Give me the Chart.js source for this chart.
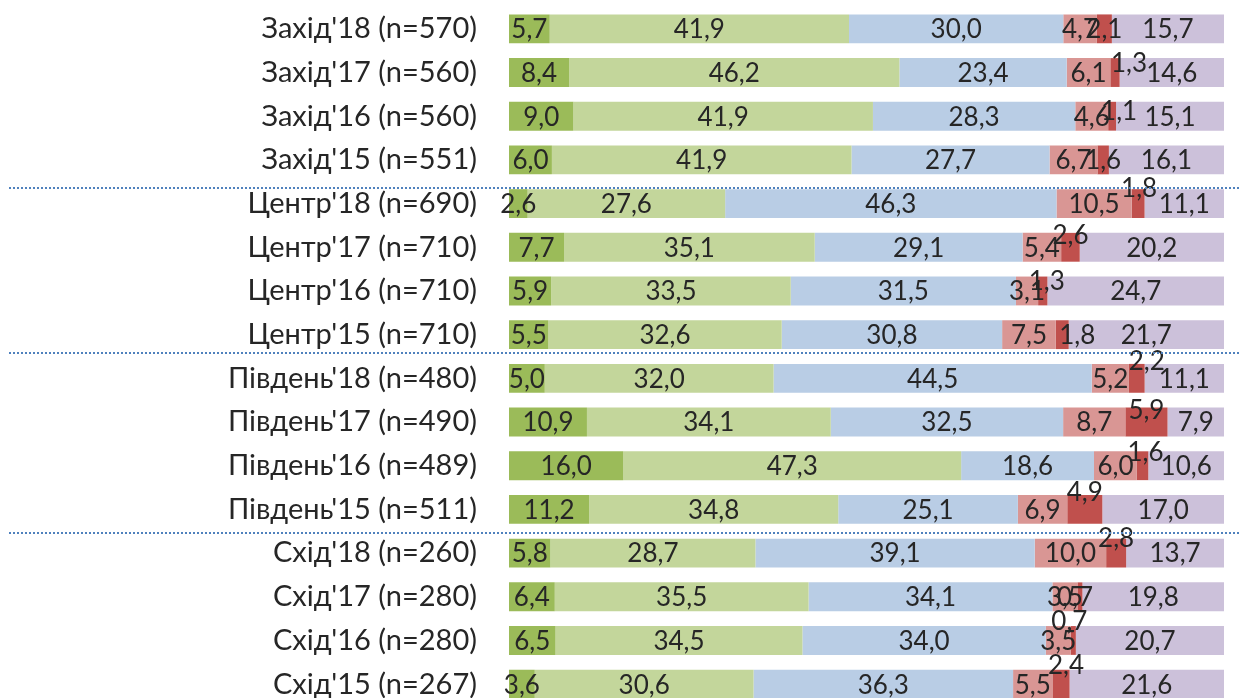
<!DOCTYPE html>
<html>

<head>
    <meta charset="UTF-8">
    <title>Regions</title>
    <script src="https://cdn.jsdelivr.net/npm/chart.js"></script>
    <style>
        html, body {
            margin: 0;
            padding: 0;
            background: #ffffff;
            overflow: hidden;
        }

        .chart-box {
            position: relative;
            width: 1241px;
            height: 714px;
        }
    </style>
</head>

<body>
    <div class="chart-box">
        <canvas id="regionChart"></canvas>
    </div>

    <script>
        // categories (rows, top to bottom)
        var regions = [
            "Захід'18 (n=570)", "Захід'17 (n=560)", "Захід'16 (n=560)", "Захід'15 (n=551)",
            "Центр'18 (n=690)", "Центр'17 (n=710)", "Центр'16 (n=710)", "Центр'15 (n=710)",
            "Південь'18 (n=480)", "Південь'17 (n=490)", "Південь'16 (n=489)", "Південь'15 (n=511)",
            "Схід'18 (n=260)", "Схід'17 (n=280)", "Схід'16 (n=280)", "Схід'15 (n=267)"
        ];

        // series values, %
        var seriesA = [5.7, 8.4, 9.0, 6.0, 2.6, 7.7, 5.9, 5.5, 5.0, 10.9, 16.0, 11.2, 5.8, 6.4, 6.5, 3.6];
        var seriesB = [41.9, 46.2, 41.9, 41.9, 27.6, 35.1, 33.5, 32.6, 32.0, 34.1, 47.3, 34.8, 28.7, 35.5, 34.5, 30.6];
        var seriesC = [30.0, 23.4, 28.3, 27.7, 46.3, 29.1, 31.5, 30.8, 44.5, 32.5, 18.6, 25.1, 39.1, 34.1, 34.0, 36.3];
        var seriesD = [4.7, 6.1, 4.6, 6.7, 10.5, 5.4, 3.1, 7.5, 5.2, 8.7, 6.0, 6.9, 10.0, 3.5, 3.5, 5.5];
        var seriesE = [2.1, 1.3, 1.1, 1.6, 1.8, 2.6, 1.3, 1.8, 2.2, 5.9, 1.6, 4.9, 2.8, 0.7, 0.7, 2.4];
        var seriesF = [15.7, 14.6, 15.1, 16.1, 11.1, 20.2, 24.7, 21.7, 11.1, 7.9, 10.6, 17.0, 13.7, 19.8, 20.7, 21.6];

        var allSeries = [seriesA, seriesB, seriesC, seriesD, seriesE, seriesF];
        var colors = ['#9bbb59', '#c3d69b', '#b9cde5', '#d99694', '#c0504d', '#ccc1da'];

        // group breaks after these row indexes
        var groupEnds = [3, 7, 11];
        // the separators in the original are hand placed, a few px off the gap centre
        var groupShift = [6, -4, 2];

        // nudges for the small dark-red labels (dx, dy in px), like the original hand placed ones
        var redNudge = [
            [0, 0], [14, -10], [7, -6], [0, 0], [1, -16], [0, -13], [4, -10], [15, 0],
            [10, -18], [0, -12], [3, -14], [0, -18], [0, -15], [-5, 0], [-4, -20], [5, -20]
        ];

        var rowSums = regions.map(function (r, i) {
            return allSeries.reduce(function (s, arr) { return s + arr[i]; }, 0);
        });

        var datasets = allSeries.map(function (arr, k) {
            return {
                label: 's' + k,
                data: arr.map(function (v, i) { return v / rowSums[i] * 100; }),
                raw: arr,
                backgroundColor: colors[k],
                borderWidth: 0,
                barPercentage: 0.66,
                categoryPercentage: 1.0
            };
        });

        var valueLabels = {
            id: 'valueLabels',
            afterDatasetsDraw: function (chart) {
                var ctx = chart.ctx;
                ctx.save();
                ctx.font = '26px Lato, "Noto Sans", sans-serif';
                ctx.fillStyle = '#262626';
                ctx.textAlign = 'center';
                ctx.textBaseline = 'middle';
                chart.data.datasets.forEach(function (ds, k) {
                    var meta = chart.getDatasetMeta(k);
                    meta.data.forEach(function (bar, i) {
                        var x = (bar.x + bar.base) / 2;
                        var y = bar.y + 1;
                        if (k === 4) {
                            x += redNudge[i][0];
                            y += redNudge[i][1];
                        }
                        ctx.fillText(ds.raw[i].toFixed(1).replace('.', ','), x, y);
                    });
                });
                ctx.restore();
            }
        };

        var groupLines = {
            id: 'groupLines',
            afterDraw: function (chart) {
                var ctx = chart.ctx;
                var yScale = chart.scales.y;
                ctx.save();
                ctx.strokeStyle = '#4f81bd';
                ctx.lineWidth = 2;
                ctx.setLineDash([2, 2]);
                groupEnds.forEach(function (idx, n) {
                    var y = Math.round((yScale.getPixelForValue(idx) + yScale.getPixelForValue(idx + 1)) / 2) + groupShift[n];
                    ctx.beginPath();
                    ctx.moveTo(9, y);
                    ctx.lineTo(chart.width, y);
                    ctx.stroke();
                });
                ctx.restore();
            }
        };

        var chart = new Chart(document.getElementById('regionChart').getContext('2d'), {
            type: 'bar',
            data: {
                labels: regions,
                datasets: datasets
            },
            options: {
                indexAxis: 'y',
                responsive: true,
                maintainAspectRatio: false,
                animation: false,
                layout: {
                    padding: { top: 7, right: 17, bottom: 8, left: 0 }
                },
                plugins: {
                    legend: { display: false },
                    tooltip: { enabled: false }
                },
                scales: {
                    x: {
                        stacked: true,
                        min: 0,
                        max: 100,
                        display: false
                    },
                    y: {
                        stacked: true,
                        grid: { display: false, drawTicks: false },
                        border: { display: false },
                        ticks: {
                            padding: 32,
                            color: '#262626',
                            font: { family: 'Lato, "Noto Sans", sans-serif', size: 29 }
                        },
                        afterFit: function (scale) {
                            scale.width = 509;
                            // drop the label half-height padding so bars fill the height like the original
                            scale.paddingTop = 0;
                            scale.paddingBottom = 0;
                        }
                    }
                }
            },
            plugins: [valueLabels, groupLines]
        });
    </script>
</body>

</html>
